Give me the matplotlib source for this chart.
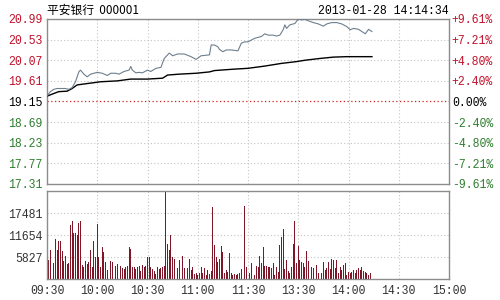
import matplotlib
matplotlib.use("Agg")
import matplotlib.pyplot as plt
import numpy as np

# ---- data ----
prev_close = 19.15
price_ticks = [17.31, 17.77, 18.23, 18.69, 19.15, 19.61, 20.07, 20.53, 20.99]
price_labels = ["17.31", "17.77", "18.23", "18.69", "19.15", "19.61", "20.07", "20.53", "20.99"]
pct_labels = ["-9.61%", "-7.21%", "-4.80%", "-2.40%", "0.00%", "+2.40%", "+4.80%", "+7.21%", "+9.61%"]
vol_ticks = [5827, 11654, 17481]
vol_labels = ["5827", "11654", "17481"]
time_ticks = [0, 30, 60, 90, 120, 150, 180, 210, 240]
time_labels = ["09:30", "10:00", "10:30", "11:00", "11:30", "13:30", "14:00", "14:30", "15:00"]

price_minutes = [0, 2, 4, 6, 8, 11, 13, 15, 17, 19, 20, 22, 24, 26, 28, 30, 33, 36, 38, 41,
                 43, 46, 49, 50, 51, 53, 55, 57, 60, 62, 65, 68, 70, 73, 75, 78, 82, 86, 89, 92,
                 97, 98, 100, 102, 103, 105, 107, 110, 114, 116, 118, 120, 122, 124, 126, 128,
                 130, 132, 135, 137, 139, 141, 142, 143, 145, 148, 150, 152, 154, 156, 159, 162,
                 165, 167, 170, 173, 176, 179, 181, 183, 186, 188, 190, 192, 194]
price_values = [19.27, 19.37, 19.42, 19.44, 19.44, 19.44, 19.42, 19.46, 19.59, 19.81, 19.85, 19.76,
                19.70, 19.76, 19.78, 19.80, 19.78, 19.73, 19.78, 19.78, 19.76, 19.82, 19.85, 19.93,
                19.85, 19.79, 19.80, 19.79, 19.85, 19.82, 19.89, 19.91, 20.11, 20.23, 20.17, 20.21,
                20.21, 20.15, 20.09, 20.17, 20.19, 20.41, 20.41, 20.37, 20.31, 20.26, 20.30, 20.30,
                20.28, 20.45, 20.48, 20.48, 20.52, 20.56, 20.58, 20.60, 20.66, 20.63, 20.63, 20.61,
                20.63, 20.75, 20.86, 20.78, 20.86, 20.89, 20.99, 20.97, 20.98, 20.95, 20.91, 20.88,
                20.83, 20.88, 20.91, 20.91, 20.88, 20.82, 20.75, 20.78, 20.76, 20.71, 20.66, 20.76,
                20.71]

avg_minutes = [0, 7, 12, 15, 18, 26, 32, 42, 50, 60, 69, 72, 79, 89, 97, 100, 111, 120, 130,
               140, 149, 154, 163, 171, 179, 194]
avg_values = [19.27, 19.37, 19.38, 19.44, 19.52, 19.56, 19.59, 19.61, 19.65, 19.65, 19.67, 19.74,
              19.76, 19.78, 19.81, 19.84, 19.87, 19.89, 19.94, 20.00, 20.04, 20.07, 20.11, 20.14,
              20.15, 20.15]

volume = [3930, 4980, 7600, 4100, 4280, 10660, 7600, 9960, 9960, 7430,
          4720, 6030, 3930, 4200, 14420, 15470, 12150, 12150, 11540, 14860,
          15470, 3670, 3060, 4720, 3930, 4540, 7600, 3060, 9960, 5860,
          14600, 5860, 3060, 8480, 7170, 4540, 2360, 4540, 4720, 4540,
          3930, 3410, 3930, 3850, 3410, 2800, 2530, 3060, 3410, 8480,
          8040, 3060, 3060, 2530, 3060, 3410, 2190, 3670, 3060, 3410,
          5860, 5860, 3060, 2530, 2190, 1310, 3060, 2530, 2800, 3060,
          3500, 23070, 9350, 7600, 11540, 5860, 5420, 4540, 2800, 4980,
          2530, 6030, 2800, 3060, 2800, 5420, 2360, 3060, 1310, 1660,
          1050, 1660, 3060, 1490, 2800, 1050, 2360, 1310, 2190, 18970,
          8910, 5860, 4540, 5420, 8650, 7170, 1490, 2360, 1920, 6900,
          1660, 1050, 1310, 1050, 1220, 1490, 2530, 8040, 19400, 3230,
          13000,
          1490, 4110, 2360, 1050, 3410, 3060, 6030, 4280, 8480, 3410,
          3410, 3060, 3230, 2800, 4110, 1050, 3060, 1920, 8910, 11100,
          13280, 2530, 4980, 2190, 1660, 3060, 9350, 15300, 4110, 8650,
          4980, 4540, 4110, 3060, 7430, 4720, 4280, 3060, 2800, 2360,
          3670, 1660, 2360, 1490, 4540, 2360, 2800, 4540, 2530, 5420,
          4980, 2800, 4980, 1660, 3060, 2360, 3670, 4110, 1050, 1920,
          1490, 1920, 2360, 1490, 2360, 2800, 2360, 3060, 2190, 1920,
          1490, 1050, 1490]
vol_minutes = list(range(len(volume)))

title_text = "平安银行  000001"
date_text = "2013-01-28 14:14:34"

# ---- style ----
RED = "#C0102A"
GREEN = "#2E7D2E"
GRID = "#C4C4C4"
FRAME = "#8C8C8C"
MONO = ["Liberation Mono", "DejaVu Sans Mono"]
FS = 8.3

fig = plt.figure(figsize=(5, 3), dpi=100)
fig.patch.set_facecolor("white")

ax = fig.add_axes([47 / 500, 1 - 184 / 300, 402 / 500, 165 / 300])
axv = fig.add_axes([47 / 500, 1 - 279 / 300, 402 / 500, 88 / 300])

for a in (ax, axv):
    a.set_xlim(0, 240)
    for s in a.spines.values():
        s.set_color(FRAME)
        s.set_linewidth(1.0)
    a.tick_params(length=0)
    for t in time_ticks[1:-1]:
        a.axvline(t, color=GRID, lw=0.8, ls=(0, (1, 2)), zorder=0)

# price panel
ax.set_ylim(price_ticks[0], price_ticks[-1])
for v in price_ticks[1:-1]:
    if v == prev_close:
        ax.axhline(v, color="#D02020", lw=0.9, ls=(0, (1, 2)), zorder=1)
    else:
        ax.axhline(v, color=GRID, lw=0.8, ls=(0, (1, 2)), zorder=0)
ax.plot(avg_minutes, avg_values, color="black", lw=1.0, zorder=3)
ax.plot(price_minutes, price_values, color="#6E7F8E", lw=0.8, zorder=4)
ax.set_xticks([])
ax.set_yticks(price_ticks)
ax.set_yticklabels(price_labels, fontfamily=MONO, fontsize=FS)
cols = [GREEN] * 4 + ["black"] + [RED] * 4
for lab, c in zip(ax.get_yticklabels(), cols):
    lab.set_color(c)
ax.tick_params(axis="y", pad=3)

axr = ax.twinx()
axr.set_ylim(price_ticks[0], price_ticks[-1])
axr.set_yticks(price_ticks)
axr.set_yticklabels(pct_labels, fontfamily=MONO, fontsize=FS)
for lab, c in zip(axr.get_yticklabels(), cols):
    lab.set_color(c)
axr.tick_params(length=0, pad=2)
for s in axr.spines.values():
    s.set_visible(False)

ax.text(0.0, 1.015, title_text, transform=ax.transAxes, ha="left", va="bottom",
        fontsize=8.5, family=["Noto Sans CJK SC", "DejaVu Sans"], color="black")
ax.text(1.0, 1.015, date_text, transform=ax.transAxes, ha="right", va="bottom",
        fontsize=FS, family=MONO, color="black")

# volume panel
axv.set_ylim(0, 4 * vol_ticks[0])
for v in vol_ticks:
    axv.axhline(v, color=GRID, lw=0.8, ls=(0, (1, 2)), zorder=0)
axv.bar(vol_minutes, volume, width=0.55, color="#7E1628", zorder=2)
axv.set_yticks(vol_ticks)
axv.set_yticklabels(vol_labels, fontfamily=MONO, fontsize=FS, color="#333333")
axv.set_xticks(time_ticks)
axv.set_xticklabels(time_labels, fontfamily=MONO, fontsize=FS, color="#333333")
axv.tick_params(axis="x", pad=4)
axv.tick_params(axis="y", pad=3)

fig.savefig("out.png", dpi=100, facecolor="white")
